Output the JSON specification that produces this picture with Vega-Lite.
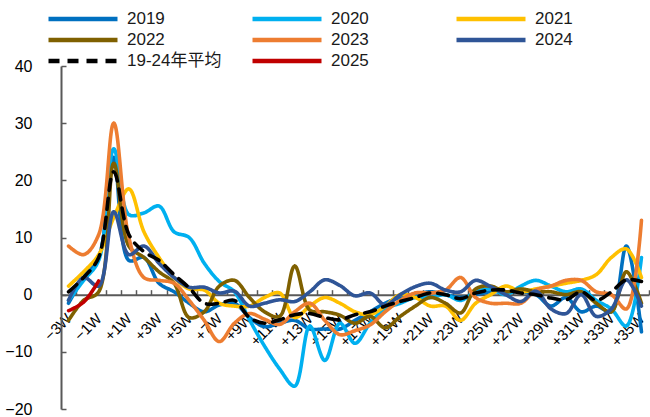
{
"$schema": "https://vega.github.io/schema/vega-lite/v6.json",
"width": 588, "height": 343,
"autosize": {"type": "none"},
"padding": {"left": 61, "top": 66, "right": 1, "bottom": 8},
"background": "white",
"config": {"view": {"stroke": null}, "font": "Liberation Sans, Noto Sans CJK SC"},
"data": {"values": [
{"s":"2019","w":"-3W","v":-1.5},{"s":"2019","w":"-2W","v":3},{"s":"2019","w":"-1W","v":6.5},{"s":"2019","w":"0W","v":24},{"s":"2019","w":"+1W","v":6},{"s":"2019","w":"+2W","v":6.5},{"s":"2019","w":"+3W","v":2},{"s":"2019","w":"+4W","v":0.5},{"s":"2019","w":"+5W","v":-1.5},{"s":"2019","w":"+6W","v":-3},{"s":"2019","w":"+7W","v":-1.8},{"s":"2019","w":"+8W","v":-1.5},{"s":"2019","w":"+9W","v":-4},{"s":"2019","w":"+10W","v":-5.6},{"s":"2019","w":"+11W","v":-5},{"s":"2019","w":"+12W","v":-4.5},{"s":"2019","w":"+13W","v":-6},{"s":"2019","w":"+14W","v":-6},{"s":"2019","w":"+15W","v":-6},{"s":"2019","w":"+16W","v":-4.5},{"s":"2019","w":"+17W","v":-3},{"s":"2019","w":"+18W","v":-1.5},{"s":"2019","w":"+19W","v":-0.5},{"s":"2019","w":"+20W","v":0},{"s":"2019","w":"+21W","v":0.5},{"s":"2019","w":"+22W","v":0},{"s":"2019","w":"+23W","v":-0.5},{"s":"2019","w":"+24W","v":0},{"s":"2019","w":"+25W","v":0.5},{"s":"2019","w":"+26W","v":0.5},{"s":"2019","w":"+27W","v":0.5},{"s":"2019","w":"+28W","v":0},{"s":"2019","w":"+29W","v":-2},{"s":"2019","w":"+30W","v":-0.5},{"s":"2019","w":"+31W","v":-3},{"s":"2019","w":"+32W","v":-2},{"s":"2019","w":"+33W","v":-3},{"s":"2019","w":"+34W","v":8.5},{"s":"2019","w":"+35W","v":-6.5},
{"s":"2020","w":"-3W","v":-1},{"s":"2020","w":"-2W","v":2.5},{"s":"2020","w":"-1W","v":6},{"s":"2020","w":"0W","v":25.5},{"s":"2020","w":"+1W","v":14},{"s":"2020","w":"+2W","v":14.3},{"s":"2020","w":"+3W","v":15.5},{"s":"2020","w":"+4W","v":11},{"s":"2020","w":"+5W","v":10},{"s":"2020","w":"+6W","v":5.5},{"s":"2020","w":"+7W","v":2.3},{"s":"2020","w":"+8W","v":0.5},{"s":"2020","w":"+9W","v":-4.4},{"s":"2020","w":"+10W","v":-9},{"s":"2020","w":"+11W","v":-13},{"s":"2020","w":"+12W","v":-16},{"s":"2020","w":"+13W","v":-5.5},{"s":"2020","w":"+14W","v":-11.5},{"s":"2020","w":"+15W","v":-5},{"s":"2020","w":"+16W","v":-8.5},{"s":"2020","w":"+17W","v":-5},{"s":"2020","w":"+18W","v":-2.5},{"s":"2020","w":"+19W","v":-1.5},{"s":"2020","w":"+20W","v":-0.5},{"s":"2020","w":"+21W","v":-0.5},{"s":"2020","w":"+22W","v":0},{"s":"2020","w":"+23W","v":-1},{"s":"2020","w":"+24W","v":0.5},{"s":"2020","w":"+25W","v":1},{"s":"2020","w":"+26W","v":0},{"s":"2020","w":"+27W","v":1.5},{"s":"2020","w":"+28W","v":2.5},{"s":"2020","w":"+29W","v":1.5},{"s":"2020","w":"+30W","v":0.5},{"s":"2020","w":"+31W","v":1},{"s":"2020","w":"+32W","v":-1},{"s":"2020","w":"+33W","v":-2.5},{"s":"2020","w":"+34W","v":-5.5},{"s":"2020","w":"+35W","v":6.5},
{"s":"2021","w":"-3W","v":1.5},{"s":"2021","w":"-2W","v":4},{"s":"2021","w":"-1W","v":7},{"s":"2021","w":"0W","v":13.5},{"s":"2021","w":"+1W","v":18.5},{"s":"2021","w":"+2W","v":11},{"s":"2021","w":"+3W","v":6.5},{"s":"2021","w":"+4W","v":3},{"s":"2021","w":"+5W","v":1},{"s":"2021","w":"+6W","v":0.8},{"s":"2021","w":"+7W","v":-1.5},{"s":"2021","w":"+8W","v":-2},{"s":"2021","w":"+9W","v":-2},{"s":"2021","w":"+10W","v":-0.5},{"s":"2021","w":"+11W","v":0.3},{"s":"2021","w":"+12W","v":-4},{"s":"2021","w":"+13W","v":-2},{"s":"2021","w":"+14W","v":-0.5},{"s":"2021","w":"+15W","v":-1.5},{"s":"2021","w":"+16W","v":-3},{"s":"2021","w":"+17W","v":-3.5},{"s":"2021","w":"+18W","v":-2},{"s":"2021","w":"+19W","v":0},{"s":"2021","w":"+20W","v":-0.5},{"s":"2021","w":"+21W","v":-2},{"s":"2021","w":"+22W","v":-2},{"s":"2021","w":"+23W","v":-4.5},{"s":"2021","w":"+24W","v":-1.5},{"s":"2021","w":"+25W","v":0},{"s":"2021","w":"+26W","v":1.5},{"s":"2021","w":"+27W","v":0.5},{"s":"2021","w":"+28W","v":1},{"s":"2021","w":"+29W","v":1.5},{"s":"2021","w":"+30W","v":2},{"s":"2021","w":"+31W","v":2.5},{"s":"2021","w":"+32W","v":3.5},{"s":"2021","w":"+33W","v":6.5},{"s":"2021","w":"+34W","v":8},{"s":"2021","w":"+35W","v":3},
{"s":"2022","w":"-3W","v":-4.5},{"s":"2022","w":"-2W","v":-1},{"s":"2022","w":"-1W","v":0.5},{"s":"2022","w":"0W","v":23},{"s":"2022","w":"+1W","v":8.5},{"s":"2022","w":"+2W","v":6.5},{"s":"2022","w":"+3W","v":4},{"s":"2022","w":"+4W","v":2},{"s":"2022","w":"+5W","v":-4},{"s":"2022","w":"+6W","v":-3},{"s":"2022","w":"+7W","v":1.5},{"s":"2022","w":"+8W","v":2.5},{"s":"2022","w":"+9W","v":-0.5},{"s":"2022","w":"+10W","v":-3},{"s":"2022","w":"+11W","v":-3.8},{"s":"2022","w":"+12W","v":5},{"s":"2022","w":"+13W","v":-2.7},{"s":"2022","w":"+14W","v":-3},{"s":"2022","w":"+15W","v":-3.6},{"s":"2022","w":"+16W","v":-5},{"s":"2022","w":"+17W","v":-3.8},{"s":"2022","w":"+18W","v":-5.8},{"s":"2022","w":"+19W","v":-3.8},{"s":"2022","w":"+20W","v":-2},{"s":"2022","w":"+21W","v":-0.5},{"s":"2022","w":"+22W","v":-1.5},{"s":"2022","w":"+23W","v":-3.2},{"s":"2022","w":"+24W","v":1},{"s":"2022","w":"+25W","v":1.5},{"s":"2022","w":"+26W","v":0.5},{"s":"2022","w":"+27W","v":1},{"s":"2022","w":"+28W","v":0.5},{"s":"2022","w":"+29W","v":0.5},{"s":"2022","w":"+30W","v":0},{"s":"2022","w":"+31W","v":0.5},{"s":"2022","w":"+32W","v":-1.5},{"s":"2022","w":"+33W","v":-3},{"s":"2022","w":"+34W","v":4},{"s":"2022","w":"+35W","v":-1.5},
{"s":"2023","w":"-3W","v":8.5},{"s":"2023","w":"-2W","v":7},{"s":"2023","w":"-1W","v":10.5},{"s":"2023","w":"0W","v":30},{"s":"2023","w":"+1W","v":10},{"s":"2023","w":"+2W","v":3},{"s":"2023","w":"+3W","v":2.5},{"s":"2023","w":"+4W","v":2},{"s":"2023","w":"+5W","v":-1},{"s":"2023","w":"+6W","v":-4.5},{"s":"2023","w":"+7W","v":-8.2},{"s":"2023","w":"+8W","v":-5},{"s":"2023","w":"+9W","v":-3.3},{"s":"2023","w":"+10W","v":-4.3},{"s":"2023","w":"+11W","v":-5.2},{"s":"2023","w":"+12W","v":-3},{"s":"2023","w":"+13W","v":-1.5},{"s":"2023","w":"+14W","v":-4.5},{"s":"2023","w":"+15W","v":-7},{"s":"2023","w":"+16W","v":-6.3},{"s":"2023","w":"+17W","v":-5.3},{"s":"2023","w":"+18W","v":-3},{"s":"2023","w":"+19W","v":-1},{"s":"2023","w":"+20W","v":0.3},{"s":"2023","w":"+21W","v":0.3},{"s":"2023","w":"+22W","v":0.8},{"s":"2023","w":"+23W","v":3},{"s":"2023","w":"+24W","v":-0.5},{"s":"2023","w":"+25W","v":-1.5},{"s":"2023","w":"+26W","v":-1.5},{"s":"2023","w":"+27W","v":-1.5},{"s":"2023","w":"+28W","v":0.8},{"s":"2023","w":"+29W","v":1.5},{"s":"2023","w":"+30W","v":2.5},{"s":"2023","w":"+31W","v":2.5},{"s":"2023","w":"+32W","v":0.5},{"s":"2023","w":"+33W","v":0},{"s":"2023","w":"+34W","v":-2.5},{"s":"2023","w":"+35W","v":13},
{"s":"2024","w":"-3W","v":-1},{"s":"2024","w":"-2W","v":3},{"s":"2024","w":"-1W","v":1.5},{"s":"2024","w":"0W","v":14.5},{"s":"2024","w":"+1W","v":7},{"s":"2024","w":"+2W","v":8.5},{"s":"2024","w":"+3W","v":5.5},{"s":"2024","w":"+4W","v":3},{"s":"2024","w":"+5W","v":1.3},{"s":"2024","w":"+6W","v":1.3},{"s":"2024","w":"+7W","v":0.3},{"s":"2024","w":"+8W","v":0.6},{"s":"2024","w":"+9W","v":-2},{"s":"2024","w":"+10W","v":-1.5},{"s":"2024","w":"+11W","v":-0.9},{"s":"2024","w":"+12W","v":-1.2},{"s":"2024","w":"+13W","v":0.5},{"s":"2024","w":"+14W","v":2.6},{"s":"2024","w":"+15W","v":1.6},{"s":"2024","w":"+16W","v":-0.2},{"s":"2024","w":"+17W","v":0.3},{"s":"2024","w":"+18W","v":-1.8},{"s":"2024","w":"+19W","v":0},{"s":"2024","w":"+20W","v":1.4},{"s":"2024","w":"+21W","v":2},{"s":"2024","w":"+22W","v":0.8},{"s":"2024","w":"+23W","v":0.5},{"s":"2024","w":"+24W","v":2.5},{"s":"2024","w":"+25W","v":1.4},{"s":"2024","w":"+26W","v":0},{"s":"2024","w":"+27W","v":-1.2},{"s":"2024","w":"+28W","v":0.6},{"s":"2024","w":"+29W","v":-2.5},{"s":"2024","w":"+30W","v":-3.3},{"s":"2024","w":"+31W","v":0},{"s":"2024","w":"+32W","v":-3.8},{"s":"2024","w":"+33W","v":-2.5},{"s":"2024","w":"+34W","v":2.6},{"s":"2024","w":"+35W","v":-2},
{"s":"19-24年平均","w":"-3W","v":0.5},{"s":"19-24年平均","w":"-2W","v":3},{"s":"19-24年平均","w":"-1W","v":6.5},{"s":"19-24年平均","w":"0W","v":21.5},{"s":"19-24年平均","w":"+1W","v":10.5},{"s":"19-24年平均","w":"+2W","v":7.5},{"s":"19-24年平均","w":"+3W","v":6},{"s":"19-24年平均","w":"+4W","v":3.5},{"s":"19-24年平均","w":"+5W","v":1.2},{"s":"19-24年平均","w":"+6W","v":-1.5},{"s":"19-24年平均","w":"+7W","v":-1.5},{"s":"19-24年平均","w":"+8W","v":-1},{"s":"19-24年平均","w":"+9W","v":-4},{"s":"19-24年平均","w":"+10W","v":-5},{"s":"19-24年平均","w":"+11W","v":-4.4},{"s":"19-24年平均","w":"+12W","v":-3.5},{"s":"19-24年平均","w":"+13W","v":-3.3},{"s":"19-24年平均","w":"+14W","v":-4},{"s":"19-24年平均","w":"+15W","v":-4.4},{"s":"19-24年平均","w":"+16W","v":-3.5},{"s":"19-24年平均","w":"+17W","v":-3},{"s":"19-24年平均","w":"+18W","v":-2},{"s":"19-24年平均","w":"+19W","v":-1.2},{"s":"19-24年平均","w":"+20W","v":-0.5},{"s":"19-24年平均","w":"+21W","v":0.3},{"s":"19-24年平均","w":"+22W","v":0},{"s":"19-24年平均","w":"+23W","v":-0.7},{"s":"19-24年平均","w":"+24W","v":0.3},{"s":"19-24年平均","w":"+25W","v":0.8},{"s":"19-24年平均","w":"+26W","v":0.8},{"s":"19-24年平均","w":"+27W","v":0.3},{"s":"19-24年平均","w":"+28W","v":0},{"s":"19-24年平均","w":"+29W","v":-0.6},{"s":"19-24年平均","w":"+30W","v":-0.9},{"s":"19-24年平均","w":"+31W","v":0.5},{"s":"19-24年平均","w":"+32W","v":-1},{"s":"19-24年平均","w":"+33W","v":0.5},{"s":"19-24年平均","w":"+34W","v":2.6},{"s":"19-24年平均","w":"+35W","v":2.3},
{"s":"2025","w":"-3W","v":-2.8},{"s":"2025","w":"-2W","v":-1.3},{"s":"2025","w":"-1W","v":2.4}
]},
"mark": {"type": "line", "interpolate": "catmull-rom", "strokeWidth": 3.6, "strokeCap": "round", "strokeJoin": "round"},
"encoding": {
  "x": {"field": "w", "type": "ordinal", "sort": null, "bandPosition": 0.5,
        "scale": {"type": "band", "paddingInner": 0, "paddingOuter": 0},
        "axis": {"title": null, "orient": "bottom", "offset": -114.33, "domainColor": "#595959", "domainWidth": 2,
                 "tickColor": "#595959", "tickWidth": 1.5, "tickSize": -5, "tickBand": "extent",
                 "labelAngle": -45, "labelAlign": "right", "labelBaseline": "middle", "labelPadding": 26,
                 "labelFontSize": 15, "labelColor": "#000000", "labelOverlap": false,
                 "labelExpr": "abs(parseInt(replace(datum.label,'W',''))) % 2 == 1 ? replace(datum.label,'-','−') : ''"}},
  "y": {"field": "v", "type": "quantitative", "scale": {"domain": [-20, 40], "nice": false, "zero": false},
        "axis": {"title": null, "values": [-20, -10, 0, 10, 20, 30, 40], "grid": false, "domainColor": "#595959", "domainWidth": 2,
                 "tickColor": "#595959", "tickWidth": 1.5, "tickSize": -5, "labelPadding": 34,
                 "labelFontSize": 16, "labelColor": "#000000"}},
  "color": {"field": "s", "type": "nominal",
            "scale": {"domain": ["2019","2020","2021","2022","2023","2024","19-24年平均","2025"],
                      "range": ["#0070C0","#00B0F0","#FFC000","#7F6000","#ED7D31","#2F5597","#000000","#C00000"]},
            "legend": {"title": null, "orient": "none", "direction": "horizontal", "legendX": -15, "legendY": -56, "columns": 3, "gridAlign": "all",
                       "columnPadding": 28, "rowPadding": 3, "clipHeight": 18, "symbolType": "stroke", "symbolSize": 4761,
                       "symbolStrokeWidth": 4.5, "labelFontSize": 17, "labelOffset": 7, "labelColor": "#1a1a1a", "padding": 0}},
  "strokeDash": {"field": "s", "type": "nominal",
            "scale": {"domain": ["2019","2020","2021","2022","2023","2024","19-24年平均","2025"],
                      "range": [[1,0],[1,0],[1,0],[1,0],[1,0],[1,0],[11,8],[1,0]]},
            "legend": {"title": null, "orient": "none", "direction": "horizontal", "legendX": -15, "legendY": -56, "columns": 3, "gridAlign": "all",
                       "columnPadding": 28, "rowPadding": 3, "clipHeight": 18, "symbolType": "stroke", "symbolSize": 4761,
                       "symbolStrokeWidth": 4.5, "labelFontSize": 17, "labelOffset": 7, "labelColor": "#1a1a1a", "padding": 0}}
}
}
